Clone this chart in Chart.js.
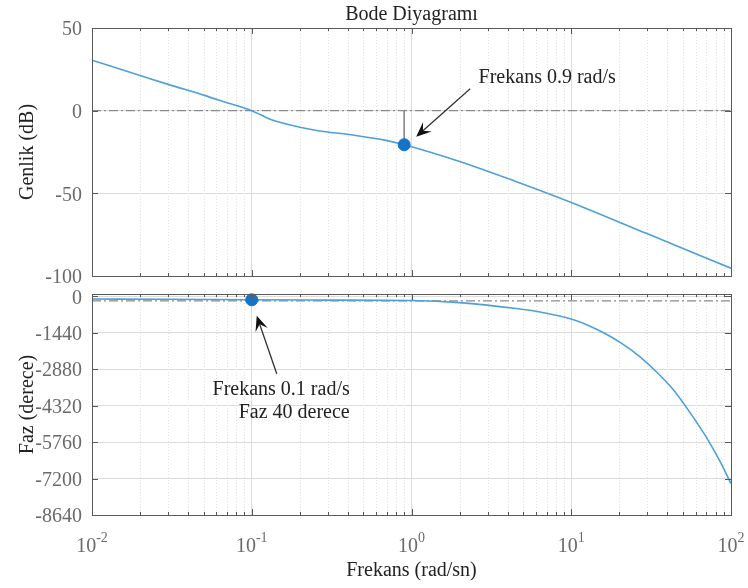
<!DOCTYPE html>
<html>
<head>
<meta charset="utf-8">
<title>Bode Diyagramı</title>
<script src="https://cdn.jsdelivr.net/npm/chart.js@4.4.0/dist/chart.umd.min.js"></script>
<style>
  body { margin: 0; background: #fff; }
  #kap { position: relative; width: 748px; height: 588px; }
  canvas { position: absolute; left: 0; }
</style>
</head>
<body>
<div id="kap">
  <canvas id="genlikChart" width="748" height="285" style="top:0"></canvas>
  <canvas id="fazChart" width="748" height="303" style="top:285px"></canvas>
</div>
<script>
// Genlik egrisi (dB)
var genlikFrekans = [0.01, 0.02, 0.03, 0.05, 0.07, 0.1, 0.133, 0.2, 0.26, 0.42, 0.68, 0.9, 2, 4.5, 10, 30, 100];
var genlikDb      = [30.5, 21.3, 15.9, 9.4, 4.8, 0, -5.5, -10, -12.1, -14.6, -17.8, -20.6, -30.7, -42.8, -55.5, -74.5, -95.3];

// Faz egrisi (derece)
var fazFrekans = [0.01, 0.03, 0.1, 0.3, 1, 2, 4.5, 6.27, 10, 12.9, 16.4, 20.9, 26.7, 34, 43.3, 55, 70, 84.9, 100];
var fazDerece  = [-110, -118, -140, -150, -168, -250, -480, -610, -900, -1160, -1480, -1880, -2370, -2970, -3675, -4565, -5563, -6493, -7400];

// isaretli noktalar
var genlikIsaretFrekans = 0.9;
var genlikIsaretDb = -20.6;
var fazIsaretFrekans = 0.1;
var fazPayi = 40;

// eksen etiketleri
var xTicks = [0.01, 0.1, 1, 10, 100];
var xTickUsler = ['-2', '-1', '0', '1', '2'];
var genlikTicks = [50, 0, -50, -100];
var fazTicks = [0, -1440, -2880, -4320, -5760, -7200, -8640];

var araTikler = [];
for (var d = 0; d < xTicks.length - 1; d++) {
  for (var m = 2; m <= 9; m++) araTikler.push(xTicks[d] * m);
}

var yazi = '"Liberation Serif", "Times New Roman", serif';
var mavi = '#4fa0d8';
var koyuMavi = '#1573c8';
var gri = '#8a8a8a';
var tikRengi = '#6a6a6a';

function noktalar(xs, ys) {
  return xs.map(function (x, i) { return { x: x, y: ys[i] }; });
}

function frekansEkseni(etiketli) {
  return {
    type: 'logarithmic',
    min: 0.01,
    max: 100,
    afterBuildTicks: function (s) { s.ticks = xTicks.map(function (v) { return { value: v, major: true }; }); },
    afterFit: function (s) { s.height = etiketli ? 73 : 0; },
    grid: { color: '#dcdcdc', drawTicks: false },
    border: { display: false },
    ticks: { display: false, padding: 0 },
    title: {
      display: etiketli,
      text: 'Frekans (rad/sn)',
      color: '#222',
      font: { family: yazi, size: 20 },
      padding: { top: 0, bottom: 5 }
    }
  };
}

function dikEksen(min, max, tikler, baslik) {
  return {
    min: min,
    max: max,
    afterBuildTicks: function (s) { s.ticks = tikler.map(function (v) { return { value: v }; }); },
    afterFit: function (s) { s.width = 92; },
    // etiket araligi gorunmez tik boyuyla verilir
    grid: { color: '#dcdcdc', drawTicks: true, tickLength: 10, tickColor: 'rgba(0,0,0,0)' },
    border: { display: false },
    ticks: {
      padding: 0,
      labelOffset: 2,
      color: tikRengi,
      font: { family: yazi, size: 20, lineHeight: 0.9 },
      callback: function (v) { return String(v); }
    },
    title: {
      display: true,
      text: baslik,
      color: '#222',
      font: { family: yazi, size: 20 },
      padding: { top: 16, bottom: 0 }
    }
  };
}

// ara izgara, cerceve ve tik cizgileri
var cercevePlugin = {
  id: 'cerceve',
  beforeDatasetsDraw: function (chart) {
    var a = chart.chartArea, sx = chart.scales.x, ctx = chart.ctx;
    ctx.save();
    ctx.strokeStyle = '#e2e2e2';
    ctx.lineWidth = 1;
    ctx.setLineDash([1, 2]);
    araTikler.forEach(function (v) {
      var px = Math.round(sx.getPixelForValue(v)) + 0.5;
      ctx.beginPath();
      ctx.moveTo(px, a.top);
      ctx.lineTo(px, a.bottom);
      ctx.stroke();
    });
    ctx.restore();
  },
  afterDraw: function (chart) {
    var a = chart.chartArea, sx = chart.scales.x, sy = chart.scales.y, ctx = chart.ctx;
    ctx.save();
    ctx.strokeStyle = '#5a5a5a';
    ctx.lineWidth = 1;
    function tik(v, uzun) {
      var px = Math.round(sx.getPixelForValue(v)) + 0.5;
      ctx.beginPath();
      ctx.moveTo(px, a.bottom); ctx.lineTo(px, a.bottom - uzun);
      ctx.moveTo(px, a.top); ctx.lineTo(px, a.top + uzun);
      ctx.stroke();
    }
    xTicks.forEach(function (v) { tik(v, 6); });
    araTikler.forEach(function (v) { tik(v, 3); });
    sy.ticks.forEach(function (t) {
      var py = Math.round(sy.getPixelForValue(t.value)) + 0.5;
      ctx.beginPath();
      ctx.moveTo(a.left, py); ctx.lineTo(a.left + 6, py);
      ctx.moveTo(a.right, py); ctx.lineTo(a.right - 6, py);
      ctx.stroke();
    });
    ctx.strokeRect(Math.round(a.left) + 0.5, Math.round(a.top) + 0.5,
      Math.round(a.right - a.left), Math.round(a.bottom - a.top));
    ctx.restore();
  }
};

// frekans ekseni etiketleri: 10 ve ust
var usluEtiketPlugin = {
  id: 'usluEtiket',
  afterDraw: function (chart) {
    var a = chart.chartArea, sx = chart.scales.x, ctx = chart.ctx;
    ctx.save();
    ctx.fillStyle = tikRengi;
    ctx.textBaseline = 'alphabetic';
    ctx.textAlign = 'left';
    xTicks.forEach(function (v, i) {
      var px = sx.getPixelForValue(v);
      ctx.font = '20px ' + yazi;
      var w10 = ctx.measureText('10').width;
      ctx.font = '14px ' + yazi;
      var wUs = ctx.measureText(xTickUsler[i]).width;
      var x0 = px - (w10 + wUs) / 2;
      ctx.font = '20px ' + yazi;
      ctx.fillText('10', x0, a.bottom + 37);
      ctx.font = '14px ' + yazi;
      ctx.fillText(xTickUsler[i], x0 + w10, a.bottom + 27);
    });
    ctx.restore();
  }
};

// oklu aciklama
function okPlugin(o) {
  return {
    id: 'okNotu',
    afterDatasetsDraw: function (chart) {
      var ctx = chart.ctx;
      var px = chart.scales.x.getPixelForValue(o.x);
      var py = chart.scales.y.getPixelForValue(o.y);
      var ux = px + o.uc[0], uy = py + o.uc[1];
      var kx = ux + o.kuyruk[0], ky = uy + o.kuyruk[1];
      var dx = ux - kx, dy = uy - ky, boy = Math.sqrt(dx * dx + dy * dy);
      var ex = dx / boy, ey = dy / boy, nx = -ey, ny = ex;
      var L = 15, W = 6.5;
      ctx.save();
      ctx.strokeStyle = '#333';
      ctx.lineWidth = 1.3;
      ctx.beginPath();
      ctx.moveTo(kx, ky);
      ctx.lineTo(ux - ex * L * 0.6, uy - ey * L * 0.6);
      ctx.stroke();
      ctx.fillStyle = '#111';
      ctx.beginPath();
      ctx.moveTo(ux, uy);
      ctx.lineTo(ux - ex * L + nx * W, uy - ey * L + ny * W);
      ctx.lineTo(ux - ex * L * 0.6, uy - ey * L * 0.6);
      ctx.lineTo(ux - ex * L - nx * W, uy - ey * L - ny * W);
      ctx.closePath();
      ctx.fill();
      ctx.fillStyle = '#222';
      ctx.font = '20px ' + yazi;
      ctx.textAlign = o.hiza;
      ctx.textBaseline = 'middle';
      o.satirlar.forEach(function (s, i) {
        ctx.fillText(s, ux + o.yazi[0], uy + o.yazi[1] + i * 22.5);
      });
      ctx.restore();
    }
  };
}

new Chart(document.getElementById('genlikChart'), {
  type: 'line',
  data: {
    datasets: [{
      data: noktalar([genlikIsaretFrekans], [genlikIsaretDb]),
      type: 'scatter',
      pointRadius: 6,
      pointBackgroundColor: koyuMavi,
      pointBorderColor: koyuMavi,
      clip: false,
      order: 0
    }, {
      data: noktalar(genlikFrekans, genlikDb),
      borderColor: mavi,
      borderWidth: 1.6,
      pointRadius: 0,
      cubicInterpolationMode: 'monotone',
      order: 1
    }, {
      data: noktalar([genlikIsaretFrekans, genlikIsaretFrekans], [0, genlikIsaretDb]),
      borderColor: gri,
      borderWidth: 1,
      pointRadius: 0,
      order: 2
    }, {
      data: noktalar([xTicks[0], xTicks[xTicks.length - 1]], [0, 0]),
      borderColor: gri,
      borderWidth: 1.2,
      borderDash: [9, 3, 2, 3],
      pointRadius: 0,
      order: 3
    }]
  },
  options: {
    responsive: false,
    animation: false,
    layout: { padding: { left: 0, right: 17, top: 0, bottom: 0 } },
    plugins: {
      legend: { display: false },
      tooltip: { enabled: false },
      title: {
        display: true,
        fullSize: false,
        text: 'Bode Diyagramı',
        color: '#222',
        font: { family: yazi, size: 20, weight: 'normal' },
        padding: { top: 3, bottom: 1 }
      }
    },
    scales: {
      x: frekansEkseni(false),
      y: dikEksen(-100, 50, genlikTicks, 'Genlik (dB)')
    }
  },
  plugins: [cercevePlugin, okPlugin({
    x: genlikIsaretFrekans, y: genlikIsaretDb,
    uc: [12, -8], kuyruk: [54, -48], yazi: [131, -59], hiza: 'center',
    satirlar: ['Frekans ' + genlikIsaretFrekans + ' rad/s']
  })]
});

new Chart(document.getElementById('fazChart'), {
  type: 'line',
  data: {
    datasets: [{
      data: noktalar([fazIsaretFrekans], [-180 + fazPayi]),
      type: 'scatter',
      pointRadius: 6,
      pointBackgroundColor: koyuMavi,
      pointBorderColor: koyuMavi,
      clip: false,
      order: 0
    }, {
      data: noktalar(fazFrekans, fazDerece),
      borderColor: mavi,
      borderWidth: 1.6,
      pointRadius: 0,
      cubicInterpolationMode: 'monotone',
      order: 1
    }, {
      data: noktalar([xTicks[0], xTicks[xTicks.length - 1]], [-180, -180]),
      borderColor: gri,
      borderWidth: 1.2,
      borderDash: [9, 3, 2, 3],
      pointRadius: 0,
      order: 2
    }]
  },
  options: {
    responsive: false,
    animation: false,
    layout: { padding: { left: 0, right: 17, top: 1, bottom: 0 } },
    plugins: {
      legend: { display: false },
      tooltip: { enabled: false }
    },
    scales: {
      x: frekansEkseni(true),
      y: dikEksen(-8640, 90, fazTicks, 'Faz (derece)')
    }
  },
  plugins: [cercevePlugin, usluEtiketPlugin, okPlugin({
    x: fazIsaretFrekans, y: -180 + fazPayi,
    uc: [5, 16], kuyruk: [20, 58], yazi: [93, 74], hiza: 'right',
    satirlar: ['Frekans ' + fazIsaretFrekans + ' rad/s', 'Faz ' + fazPayi + ' derece']
  })]
});
</script>
</body>
</html>
